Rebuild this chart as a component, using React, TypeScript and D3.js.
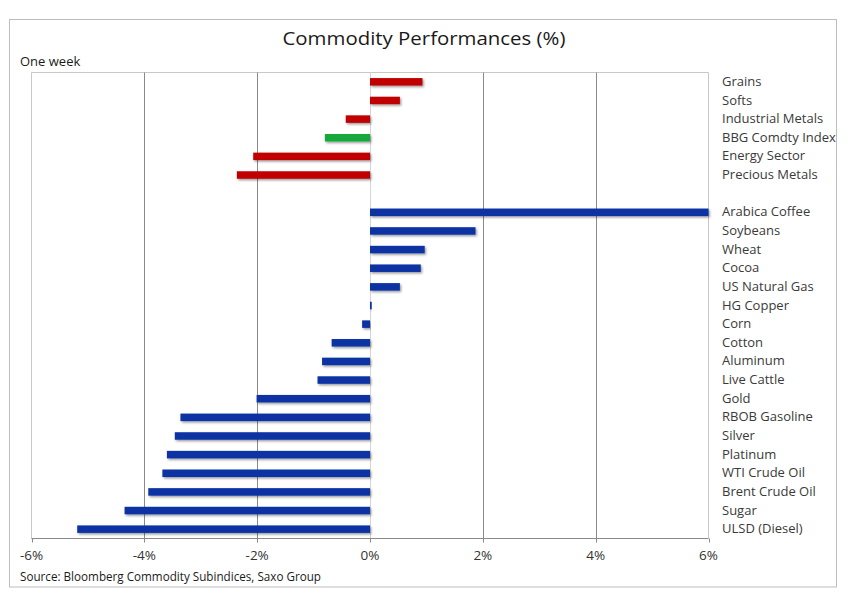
import React from 'react';
import * as d3 from 'd3';

const sectors = ['Grains', 'Softs', 'Industrial Metals', 'BBG Comdty Index', 'Energy Sector', 'Precious Metals'];
const sectorValues = [0.93, 0.53, -0.43, -0.8, -2.07, -2.36];

const commodities = [
    'Arabica Coffee', 'Soybeans', 'Wheat', 'Cocoa', 'US Natural Gas', 'HG Copper', 'Corn', 'Cotton',
    'Aluminum', 'Live Cattle', 'Gold', 'RBOB Gasoline', 'Silver', 'Platinum', 'WTI Crude Oil',
    'Brent Crude Oil', 'Sugar', 'ULSD (Diesel)',
];
const commodityValues = [6.0, 1.87, 0.97, 0.9, 0.53, 0.03, -0.14, -0.68, -0.85, -0.93, -2.01, -3.36, -3.46, -3.6, -3.68, -3.93, -4.35, -5.19];

const xTicks = [-6, -4, -2, 0, 2, 4, 6];

const GAP = '__gap__';
const FONT = '"Open Sans", "Noto Sans", sans-serif';

const App: React.FC = () => {
    const width = 849;
    const height = 600;
    const plot = { left: 31.5, top: 72.5, right: 708.5, bottom: 538.5 };

    const rows = [
        ...sectors.map((name, i) => ({ name, value: sectorValues[i], color: name === 'BBG Comdty Index' ? '#14a83b' : '#c00000' })),
        { name: GAP, value: 0, color: 'none' },
        ...commodities.map((name, i) => ({ name, value: commodityValues[i], color: '#0a33a3' })),
    ];

    const x = d3.scaleLinear().domain([-6, 6]).range([plot.left, plot.right]);
    const y = d3.scaleBand<string>().domain(rows.map(r => r.name)).range([plot.top, plot.bottom]).padding(0);
    const barH = 7.5;

    return (
        <svg width={width} height={height} style={{ display: 'block', margin: '-8px' }} fontFamily={FONT}>
            <defs>
                <filter id="shadow" x="-10%" y="-50%" width="120%" height="250%">
                    <feDropShadow dx="1.3" dy="1.5" stdDeviation="1" floodColor="#000" floodOpacity="0.4" />
                </filter>
            </defs>
            <rect x={0} y={0} width={width} height={height} fill="#fff" />
            <rect x={9.5} y={19.5} width={827} height={567.5} fill="#fff" stroke="#bdbdbd" strokeWidth={1} />

            <text x={424} y={45} textAnchor="middle" fontSize={19} fill="#1a1a1a" textLength={283} lengthAdjust="spacingAndGlyphs">
                Commodity Performances (%)
            </text>
            <text x={20} y={66} fontSize={13} fill="#1a1a1a">One week</text>

            {/* plot frame */}
            <line x1={plot.left} x2={plot.right} y1={plot.top} y2={plot.top} stroke="#c8c8c8" />
            <line x1={plot.left} x2={plot.left} y1={plot.top} y2={plot.bottom} stroke="#c8c8c8" />
            <line x1={plot.right} x2={plot.right} y1={plot.top} y2={plot.bottom} stroke="#c8c8c8" />

            {xTicks.filter(t => t !== -6 && t !== 6).map(t => (
                <line key={t} x1={Math.round(x(t)) + 0.5} x2={Math.round(x(t)) + 0.5} y1={plot.top} y2={plot.bottom}
                    stroke={t === 0 ? '#d4d4d4' : '#8a8a8a'} />
            ))}

            {rows.filter(r => r.name !== GAP).map(r => {
                const x0 = x(Math.min(0, r.value));
                const x1 = x(Math.max(0, r.value));
                const cy = (y(r.name) as number) + y.bandwidth() / 2;
                return (
                    <rect key={r.name} x={x0} y={cy - barH / 2} width={Math.max(1.5, x1 - x0)} height={barH}
                        fill={r.color} filter="url(#shadow)" />
                );
            })}

            {/* bottom axis */}
            <line x1={plot.left} x2={plot.right} y1={plot.bottom} y2={plot.bottom} stroke="#8a8a8a" />
            {xTicks.map(t => (
                <g key={t}>
                    <line x1={Math.round(x(t)) + 0.5} x2={Math.round(x(t)) + 0.5} y1={plot.bottom} y2={plot.bottom + 4} stroke="#8a8a8a" />
                    <text x={x(t)} y={560} textAnchor="middle" fontSize={13.5} fill="#333">{`${t}%`}</text>
                </g>
            ))}

            {rows.filter(r => r.name !== GAP).map(r => (
                <text key={r.name} x={722} y={(y(r.name) as number) + y.bandwidth() / 2 - 0.5} dy="0.35em" fontSize={13} fill="#3a3a3a">
                    {r.name}
                </text>
            ))}

            <text x={20} y={581} fontSize={12} fill="#1a1a1a" textLength={301} lengthAdjust="spacingAndGlyphs">
                Source: Bloomberg Commodity Subindices, Saxo Group
            </text>
        </svg>
    );
};

export default App;
